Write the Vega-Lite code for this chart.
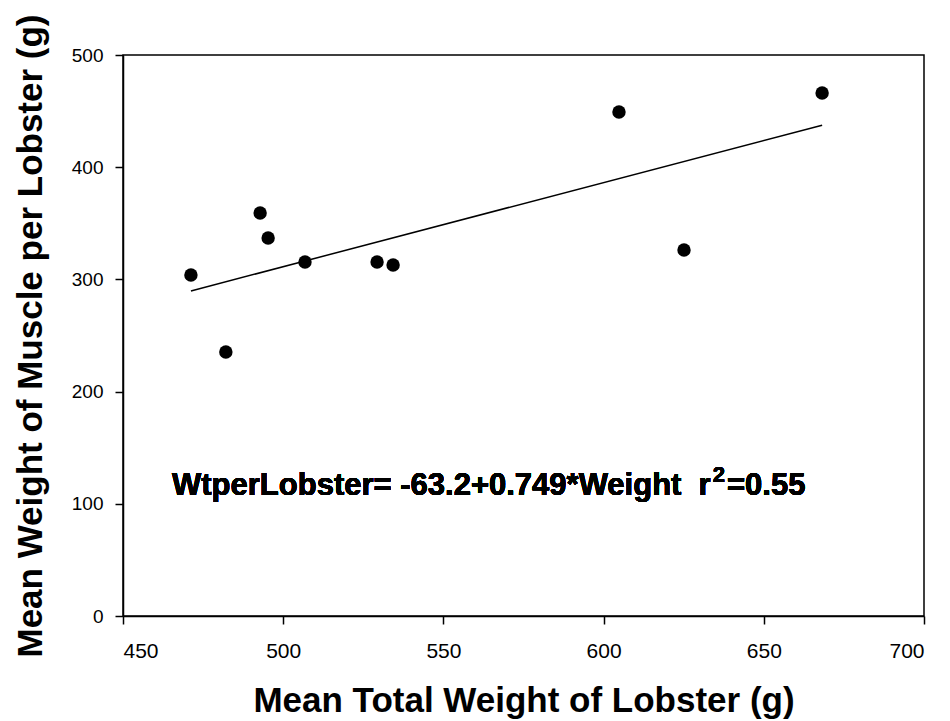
{
  "$schema": "https://vega.github.io/schema/vega-lite/v6.json",
  "autosize": "none",
  "width": 801,
  "height": 561,
  "padding": {"left": 123, "top": 55, "right": 26, "bottom": 105},
  "background": "white",
  "config": {
    "view": {"stroke": "black", "strokeWidth": 1.5},
    "font": "Liberation Sans",
    "axis": {
      "grid": false,
      "domainColor": "black",
      "domainWidth": 1.5,
      "tickColor": "black",
      "tickWidth": 1.5,
      "tickSize": 8,
      "labelFont": "Liberation Sans",
      "labelColor": "black",
      "titleFont": "Liberation Sans",
      "titleFontWeight": "bold",
      "titleColor": "black"
    }
  },
  "data": {
    "values": [
      {"weight": 471.2, "muscle": 303.9},
      {"weight": 482.1, "muscle": 235.3},
      {"weight": 492.8, "muscle": 359.2},
      {"weight": 495.3, "muscle": 336.9},
      {"weight": 506.8, "muscle": 315.5},
      {"weight": 529.3, "muscle": 315.5},
      {"weight": 534.3, "muscle": 312.8},
      {"weight": 604.8, "muscle": 449.2},
      {"weight": 625.1, "muscle": 326.2},
      {"weight": 668.2, "muscle": 466.1}
    ]
  },
  "encoding": {
    "x": {
      "field": "weight",
      "type": "quantitative",
      "scale": {"domain": [450, 700], "nice": false, "zero": false},
      "axis": {
        "title": "Mean Total Weight of Lobster (g)",
        "values": [450, 500, 550, 600, 650, 700],
        "labelFontSize": 21,
        "labelPadding": 16,
        "titleFontSize": 35,
        "titlePadding": 22
      }
    },
    "y": {
      "field": "muscle",
      "type": "quantitative",
      "scale": {"domain": [0, 500], "nice": false},
      "axis": {
        "title": "Mean Weight of Muscle per Lobster (g)",
        "values": [0, 100, 200, 300, 400, 500],
        "labelFontSize": 19,
        "labelPadding": 12,
        "titleFontSize": 35,
        "titlePadding": 23
      }
    }
  },
  "layer": [
    {
      "mark": {"type": "point", "filled": true, "color": "black", "size": 180, "opacity": 1}
    },
    {
      "transform": [{"regression": "muscle", "on": "weight", "method": "linear"}],
      "mark": {"type": "line", "color": "black", "strokeWidth": 1.5}
    },
    {
      "mark": {"type": "text", "align": "left", "baseline": "alphabetic", "fontSize": 31, "fontWeight": "bold", "color": "black", "font": "Liberation Sans"},
      "encoding": {
        "x": {"datum": 465.3},
        "y": {"datum": 107.8},
        "text": {"value": "WtperLobster= -63.2+0.749*Weight\u00a0\u00a0r"}
      }
    },
    {
      "mark": {"type": "text", "align": "left", "baseline": "alphabetic", "fontSize": 22, "fontWeight": "bold", "color": "black", "font": "Liberation Sans"},
      "encoding": {
        "x": {"datum": 634.1},
        "y": {"datum": 119.4},
        "text": {"value": "2"}
      }
    },
    {
      "mark": {"type": "text", "align": "left", "baseline": "alphabetic", "fontSize": 31, "fontWeight": "bold", "color": "black", "font": "Liberation Sans"},
      "encoding": {
        "x": {"datum": 638.5},
        "y": {"datum": 107.8},
        "text": {"value": "=0.55"}
      }
    }
  ]
}
